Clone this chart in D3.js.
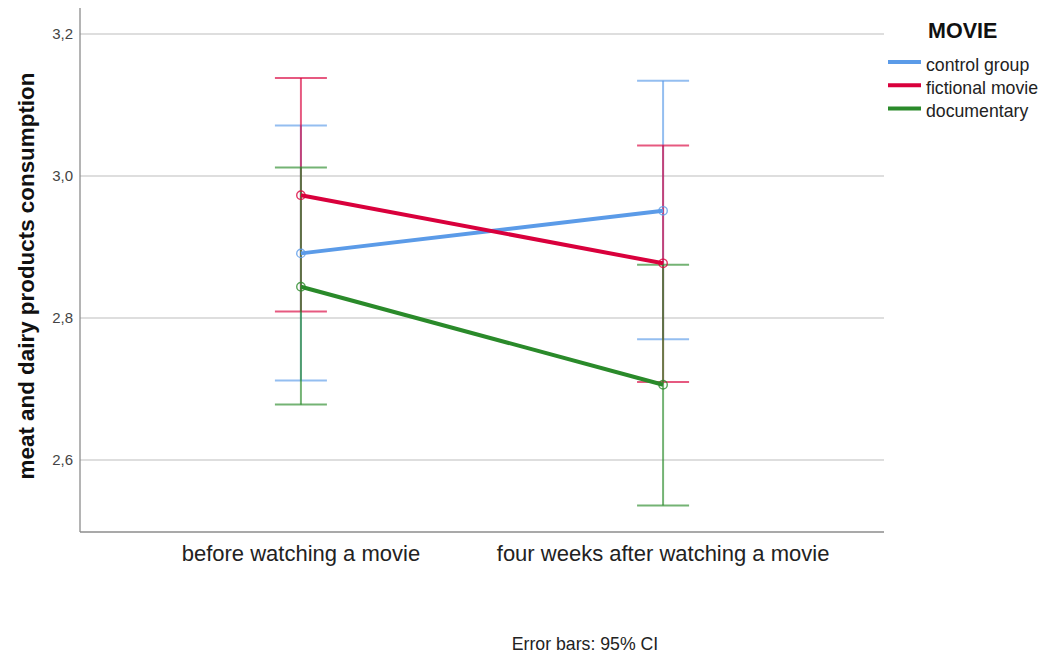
<!DOCTYPE html>
<html>
<head>
<meta charset="utf-8">
<script src="https://cdn.jsdelivr.net/npm/d3@7"></script>
<style>
  html, body { margin: 0; padding: 0; background: #fff; }
  svg { display: block; font-family: "Liberation Sans", Arial, sans-serif; }
</style>
</head>
<body>
<svg id="chart" width="1043" height="654"></svg>
<script>
// Time points on the x axis
const timePoints = ["before watching a movie", "four weeks after watching a movie"];

// Group names and colours
const groups = ["control group", "fictional movie", "documentary"];
const groupColors = ["#5b9be8", "#d9003c", "#2a8a2a"];

// Means per group at each time point
const controlMean = [2.891, 2.951];
const fictionalMean = [2.973, 2.877];
const documentaryMean = [2.844, 2.706];

// 95% CI bounds per group at each time point
const controlLow = [2.712, 2.770];
const controlHigh = [3.071, 3.134];
const fictionalLow = [2.809, 2.710];
const fictionalHigh = [3.138, 3.043];
const documentaryLow = [2.678, 2.536];
const documentaryHigh = [3.012, 2.875];

const yTicks = [2.6, 2.8, 3.0, 3.2];

const series = [
  { name: groups[0], color: groupColors[0], mean: controlMean, low: controlLow, high: controlHigh },
  { name: groups[1], color: groupColors[1], mean: fictionalMean, low: fictionalLow, high: fictionalHigh },
  { name: groups[2], color: groupColors[2], mean: documentaryMean, low: documentaryLow, high: documentaryHigh }
];

const svg = d3.select("#chart");
const plotLeft = 80, plotRight = 884, plotTop = 8, plotBottom = 532;

const x = d3.scalePoint().domain(timePoints).range([plotLeft, plotRight]).padding(0.61);
const y = d3.scaleLinear().domain([2.4986, 3.2366]).range([plotBottom, plotTop]);

// Horizontal gridlines
svg.append("g").selectAll("line").data(yTicks).join("line")
  .attr("x1", plotLeft).attr("x2", plotRight)
  .attr("y1", d => y(d)).attr("y2", d => y(d))
  .attr("stroke", "#bdbdbd").attr("stroke-width", 1.2);

// Y axis tick labels (comma decimal)
const fmt = d => d3.format(".1f")(d).replace(".", ",");
svg.append("g").selectAll("text").data(yTicks).join("text")
  .attr("x", 73).attr("y", d => y(d)).attr("dy", "0.35em")
  .attr("text-anchor", "end").attr("font-size", 15).attr("fill", "#444")
  .text(fmt);

// Axis lines
svg.append("line").attr("x1", plotLeft).attr("x2", plotLeft).attr("y1", plotTop).attr("y2", plotBottom)
  .attr("stroke", "#8c8c8c").attr("stroke-width", 1.3);
svg.append("line").attr("x1", plotLeft).attr("x2", plotRight).attr("y1", plotBottom).attr("y2", plotBottom)
  .attr("stroke", "#8c8c8c").attr("stroke-width", 1.3);

// Category labels
svg.append("g").selectAll("text").data(timePoints).join("text")
  .attr("x", d => x(d)).attr("y", 561)
  .attr("text-anchor", "middle").attr("font-size", 22).attr("fill", "#222")
  .text(d => d);

// Y axis title
svg.append("text")
  .attr("transform", `translate(34,${(plotTop + plotBottom) / 2 + 6}) rotate(-90)`)
  .attr("text-anchor", "middle").attr("font-size", 22.4).attr("font-weight", "bold").attr("fill", "#111")
  .text("meat and dairy products consumption");

// Error bars
const cap = 26;
series.forEach(s => {
  const g = svg.append("g").attr("stroke", s.color).attr("stroke-width", 2).attr("stroke-opacity", 0.65);
  timePoints.forEach((t, i) => {
    const cx = x(t);
    g.append("line").attr("x1", cx).attr("x2", cx).attr("y1", y(s.low[i])).attr("y2", y(s.high[i]));
    g.append("line").attr("x1", cx - cap).attr("x2", cx + cap).attr("y1", y(s.low[i])).attr("y2", y(s.low[i]));
    g.append("line").attr("x1", cx - cap).attr("x2", cx + cap).attr("y1", y(s.high[i])).attr("y2", y(s.high[i]));
  });
});

// Mean lines and markers
const line = d3.line().x((d, i) => x(timePoints[i])).y(d => y(d));
series.forEach(s => {
  svg.append("path").datum(s.mean).attr("d", line)
    .attr("fill", "none").attr("stroke", s.color).attr("stroke-width", 4);
  svg.append("g").selectAll("circle").data(s.mean).join("circle")
    .attr("cx", (d, i) => x(timePoints[i])).attr("cy", d => y(d)).attr("r", 4.2)
    .attr("fill", "none").attr("stroke", s.color).attr("stroke-width", 1.4).attr("stroke-opacity", 0.8);
});

// Legend
svg.append("text").attr("x", 928).attr("y", 38)
  .attr("font-size", 21.5).attr("font-weight", "bold").attr("fill", "#111").text("MOVIE");
const lg = svg.append("g").selectAll("g").data(series).join("g")
  .attr("transform", (d, i) => `translate(888,${62 + i * 23.2})`);
lg.append("line").attr("x1", 0).attr("x2", 33).attr("y1", 0).attr("y2", 0)
  .attr("stroke", d => d.color).attr("stroke-width", 4);
lg.append("text").attr("x", 38).attr("y", 9)
  .attr("font-size", 17.7).attr("fill", "#222").text(d => d.name);

// Footer note
svg.append("text").attr("x", 585).attr("y", 650)
  .attr("text-anchor", "middle").attr("font-size", 17.7).attr("fill", "#222")
  .text("Error bars: 95% CI");
</script>
</body>
</html>
